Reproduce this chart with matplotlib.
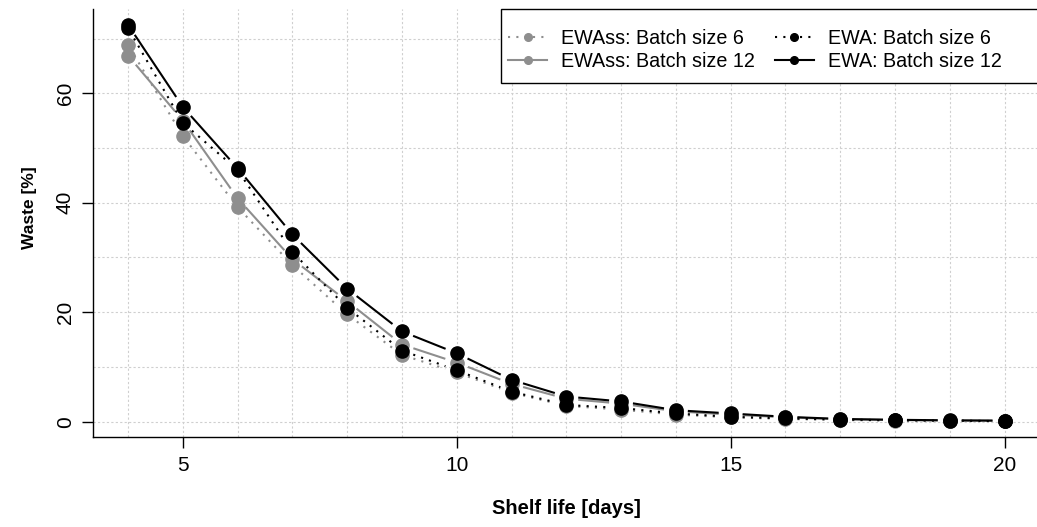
import numpy as np
import matplotlib
matplotlib.use('Agg')
import matplotlib.pyplot as plt
from matplotlib.lines import Line2D
from matplotlib.patches import Rectangle

plt.rcParams['font.family'] = ['Liberation Sans', 'DejaVu Sans']

# data
shelf_life = [4, 5, 6, 7, 8, 9, 10, 11, 12, 13, 14, 15, 16, 17, 18, 19, 20]
ewass_6  = [68.8, 52.2, 39.2, 28.6, 19.6, 12.2, 9.0, 5.3, 2.9, 2.2, 1.3, 0.8, 0.5, 0.3, 0.2, 0.15, 0.1]
ewass_12 = [66.9, 55.0, 40.8, 29.7, 22.0, 14.1, 10.8, 6.9, 4.2, 3.3, 1.9, 1.3, 0.8, 0.45, 0.3, 0.2, 0.15]
ewa_6    = [71.9, 54.6, 46.0, 31.0, 20.8, 13.0, 9.4, 5.5, 3.06, 2.5, 1.5, 0.9, 0.6, 0.4, 0.25, 0.2, 0.1]
ewa_12   = [72.5, 57.5, 46.3, 34.2, 24.3, 16.5, 12.5, 7.65, 4.6, 3.7, 2.1, 1.5, 0.9, 0.5, 0.35, 0.25, 0.2]

labels = ['EWAss: Batch size 6', 'EWAss: Batch size 12',
          'EWA: Batch size 6', 'EWA: Batch size 12']
xticks = [5, 10, 15, 20]
yticks = [0, 20, 40, 60]

grey = '#8e8e8e'
dotted = (0, (1, 3))
styles = [(grey, dotted), (grey, '-'), ('black', dotted), ('black', '-')]
series = [ewass_6, ewass_12, ewa_6, ewa_12]


def r_range(vals):
    lo, hi = min(vals), max(vals)
    r = hi - lo
    return lo - 0.04 * r, hi + 0.04 * r


def lines_with_gaps(ax, x, y, gap, **kw):
    # like R type="b": segments stop short of the points
    pts = ax.transData.transform(np.column_stack([x, y]))
    inv = ax.transData.inverted()
    for p, q in zip(pts[:-1], pts[1:]):
        d = q - p
        L = np.hypot(d[0], d[1])
        if L <= 2 * gap:
            continue
        u = d / L
        a = inv.transform(p + u * gap)
        b = inv.transform(q - u * gap)
        ax.plot([a[0], b[0]], [a[1], b[1]], **kw)


fig = plt.figure(figsize=(10.37, 5.27), dpi=100)
ax = fig.add_axes([93 / 1037, 1 - 437 / 527, 946.6 / 1037, 428 / 527])

allv = ewass_6 + ewass_12 + ewa_6 + ewa_12
ax.set_xlim(*r_range(shelf_life))
ax.set_ylim(*r_range(allv))

# grid
for gx in range(4, 21):
    ax.axvline(gx, color='#cfcfcf', lw=0.8, ls=(0, (2, 2)), zorder=0)
for gy in range(0, 80, 10):
    ax.axhline(gy, color='#cfcfcf', lw=0.8, ls=(0, (2, 2)), zorder=0)

for i, (vals, (c, ls)) in enumerate(zip(series, styles)):
    lines_with_gaps(ax, shelf_life, vals, 12, color=c, ls=ls, lw=1.5,
                    solid_capstyle='butt', dash_capstyle='butt', zorder=2 + 2 * i)
    ax.plot(shelf_life, vals, 'o', color=c, ms=9.5, mec=c, zorder=3 + 2 * i)

ax.spines['top'].set_visible(False)
ax.spines['right'].set_visible(False)
ax.spines['left'].set_linewidth(1.0)
ax.spines['bottom'].set_linewidth(1.0)
ax.set_xticks(xticks)
ax.set_yticks(yticks)
ax.tick_params(axis='both', direction='out', length=8, width=1, labelsize=15)
ax.tick_params(axis='x', pad=6)
ax.tick_params(axis='y', pad=5)
for t in ax.get_yticklabels():
    t.set_rotation(90)
    t.set_va('center')

ax.set_xlabel('Shelf life [days]', fontsize=14.5, fontweight='bold')
ax.set_ylabel('Waste [%]', fontsize=12.5, fontweight='bold')
ax.xaxis.set_label_coords(0.5, -0.145)
ax.yaxis.set_label_coords(-0.059, 0.535)

# legend box (R style, reaches the right edge of the plot region)
box = Rectangle((0.431, 0.827), 0.569, 0.173, transform=ax.transAxes,
                facecolor='white', edgecolor='black', lw=1.0, zorder=19,
                clip_on=False)
ax.add_patch(box)
handles = [Line2D([], [], color=c, ls=ls, lw=1.5, marker='o', ms=5.5)
           for c, ls in styles]
leg = ax.legend(handles, labels, loc='upper left', bbox_to_anchor=(0.431, 0.969),
                ncol=2, fontsize=14.2, frameon=False, borderaxespad=0.0,
                handlelength=2.0, handletextpad=0.7, columnspacing=1.0,
                labelspacing=0.2, borderpad=0.35)
leg.set_zorder(20)

fig.savefig('out.png', dpi=100)
